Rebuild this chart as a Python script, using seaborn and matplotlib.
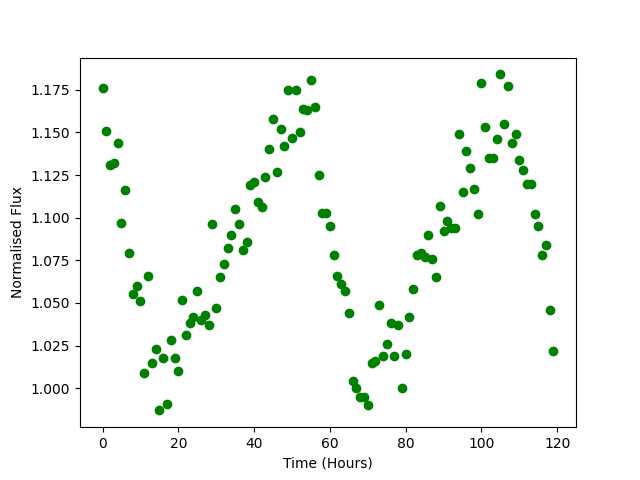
import matplotlib
matplotlib.use('Agg')
import matplotlib.pyplot as plt
import seaborn as sns
import pandas as pd

# Hourly normalised flux readings
hours = list(range(120))
flux = [
    1.176, 1.151, 1.131, 1.132, 1.144, 1.097, 1.116, 1.079, 1.055, 1.060,
    1.051, 1.009, 1.066, 1.015, 1.023, 0.987, 1.018, 0.991, 1.028, 1.018,
    1.010, 1.052, 1.031, 1.038, 1.042, 1.057, 1.040, 1.043, 1.037, 1.096,
    1.047, 1.065, 1.073, 1.082, 1.090, 1.105, 1.096, 1.081, 1.086, 1.119,
    1.121, 1.109, 1.106, 1.124, 1.140, 1.158, 1.127, 1.152, 1.142, 1.175,
    1.147, 1.175, 1.150, 1.164, 1.163, 1.181, 1.165, 1.125, 1.103, 1.103,
    1.095, 1.078, 1.066, 1.061, 1.057, 1.044, 1.004, 1.000, 0.995, 0.995,
    0.990, 1.015, 1.016, 1.049, 1.019, 1.026, 1.038, 1.019, 1.037, 1.000,
    1.020, 1.042, 1.058, 1.078, 1.079, 1.077, 1.090, 1.076, 1.065, 1.107,
    1.092, 1.098, 1.094, 1.094, 1.149, 1.115, 1.139, 1.129, 1.117, 1.102,
    1.179, 1.153, 1.135, 1.135, 1.146, 1.184, 1.155, 1.177, 1.144, 1.149,
    1.134, 1.128, 1.120, 1.120, 1.102, 1.095, 1.078, 1.084, 1.046, 1.022,
]

df = pd.DataFrame({'Time (Hours)': hours, 'Normalised Flux': flux})

plt.figure(figsize=(6.4, 4.8), dpi=100)
ax = sns.scatterplot(data=df, x='Time (Hours)', y='Normalised Flux',
                     color='green', edgecolor='green', s=36, linewidth=1)

plt.xlabel('Time (Hours)')
plt.ylabel('Normalised Flux')

plt.savefig('out.png', dpi=100)
